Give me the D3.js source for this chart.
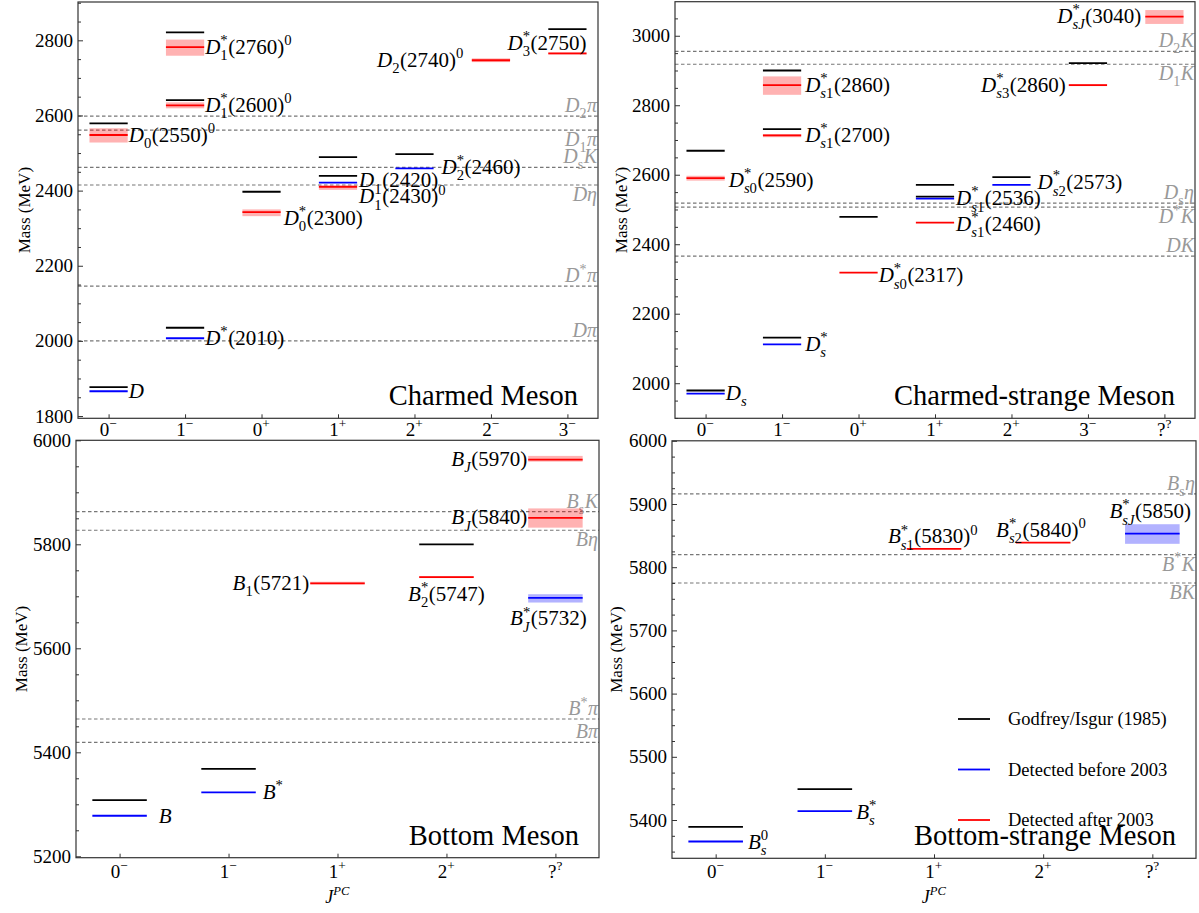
<!DOCTYPE html>
<html>
<head>
<meta charset="utf-8">
<script src="https://cdn.jsdelivr.net/npm/d3@7"></script>
<style>
  body { margin: 0; background: #fff; }
  svg text { font-family: "Liberation Serif", "Times New Roman", serif; }
</style>
</head>
<body>
<svg id="chart" width="1199" height="913"></svg>
<script>
//! ===== 0. Data (masses in MeV) ==========================
// levels: [J^PC, mass] or [J^PC, mass, bandLow, bandHigh]

// Charmed meson
const charmCats = ["0-", "1-", "0+", "1+", "2+", "2-", "3-"];
const charmGI = [["0-", 1877], ["0-", 2579], ["1-", 2035], ["1-", 2641], ["1-", 2821],
                 ["0+", 2397], ["1+", 2439], ["1+", 2489], ["2+", 2497], ["3-", 2830]];
const charmOld = [["0-", 1866], ["1-", 2007], ["1+", 2421], ["2+", 2459]];
const charmNew = [["0-", 2548, 2528, 2566], ["1-", 2627, 2619, 2635], ["1-", 2782, 2759, 2802],
                  ["0+", 2343, 2332, 2350], ["1+", 2410, 2402, 2415], ["2-", 2747, 2742, 2752],
                  ["3-", 2765, 2762, 2767]];
const charmThresh = [["D_{2}π", 2598], ["D_{1}π", 2561], ["D_{s}K", 2462], ["Dη", 2415],
                     ["D^{*}π", 2146], ["Dπ", 2000]];
const charmNames = [["0-", 1866, "D"], ["0-", 2548, "D_{0}(2550)^{0}"], ["1-", 2007, "D^{*}(2010)"],
                    ["1-", 2627, "D_{1}^{*}(2600)^{0}"], ["1-", 2782, "D_{1}^{*}(2760)^{0}"],
                    ["0+", 2343, "D_{0}^{*}(2300)"], ["1+", 2421, "D_{1}(2420)"],
                    ["1+", 2410, "D_{1}(2430)^{0}"], ["2+", 2459, "D_{2}^{*}(2460)"],
                    ["2-", 2747, "D_{2}(2740)^{0}"], ["3-", 2765, "D_{3}^{*}(2750)"]];

// Charmed-strange meson
const strangeCats = ["0-", "1-", "0+", "1+", "2+", "3-", "??"];
const strangeGI = [["0-", 1979], ["0-", 2669], ["1-", 2131], ["1-", 2731], ["1-", 2900],
                   ["0+", 2479], ["1+", 2537], ["1+", 2571], ["2+", 2593], ["3-", 2921]];
const strangeOld = [["0-", 1970], ["1-", 2112], ["1+", 2531], ["2+", 2571]];
const strangeNew = [["0-", 2590, 2583, 2597], ["1-", 2713, 2708, 2717], ["1-", 2858, 2830, 2883],
                    ["0+", 2318], ["1+", 2462], ["3-", 2858, 2855, 2861], ["??", 3055, 3034, 3074]];
const strangeThresh = [["D_{2}K", 2955], ["D_{1}K", 2918], ["D_{s}η", 2518], ["D^{*}K", 2507], ["DK", 2366]];
const strangeNames = [["0-", 1970, "D_{s}"], ["0-", 2590, "D_{s0}^{*}(2590)"], ["1-", 2112, "D_{s}^{*}"],
                      ["1-", 2713, "D_{s1}^{*}(2700)"], ["1-", 2858, "D_{s1}^{*}(2860)"],
                      ["0+", 2318, "D_{s0}^{*}(2317)"], ["1+", 2531, "D_{s1}^{*}(2536)"],
                      ["1+", 2462, "D_{s1}^{*}(2460)"], ["2+", 2571, "D_{s2}^{*}(2573)"],
                      ["3-", 2858, "D_{s3}^{*}(2860)"], ["??", 3055, "D_{sJ}^{*}(3040)"]];

// Bottom meson
const bottomCats = ["0-", "1-", "1+", "2+", "??"];
const bottomGI = [["0-", 5308], ["1-", 5368], ["2+", 5800]];
const bottomOld = [["0-", 5278], ["1-", 5323], ["??", 5697, 5688, 5704]];
const bottomNew = [["1+", 5725, 5723, 5728], ["2+", 5737, 5735, 5739],
                   ["??", 5851, 5832, 5869], ["??", 5963, 5959, 5970]];
const bottomThresh = [["B_{s}K", 5863], ["Bη", 5827], ["B^{*}π", 5464], ["Bπ", 5419]];
const bottomNames = [["0-", 5278, "B"], ["1-", 5323, "B^{*}"], ["1+", 5725, "B_{1}(5721)"],
                     ["2+", 5737, "B_{2}^{*}(5747)"], ["??", 5963, "B_{J}(5970)"],
                     ["??", 5851, "B_{J}(5840)"], ["??", 5697, "B_{J}^{*}(5732)"]];

// Bottom-strange meson
const bsCats = ["0-", "1-", "1+", "2+", "??"];
const bsGI = [["0-", 5389], ["1-", 5449]];
const bsOld = [["0-", 5366], ["1-", 5414], ["??", 5853, 5837, 5868]];
const bsNew = [["1+", 5829], ["2+", 5839]];
const bsThresh = [["B_{s}η", 5916], ["B^{*}K", 5820], ["BK", 5775]];
const bsNames = [["0-", 5366, "B_{s}^{0}"], ["1-", 5414, "B_{s}^{*}"], ["1+", 5829, "B_{s1}^{*}(5830)^{0}"],
                 ["2+", 5839, "B_{s2}^{*}(5840)^{0}"], ["??", 5853, "B_{sJ}^{*}(5850)"]];

const legendNames = ["Godfrey/Isgur (1985)", "Detected before 2003", "Detected after 2003"];

//! ===== I. Layout hints (kept apart from the data) =====
// name placement: side (r after level, l before level, e ends at level's right end,
// u centred above, d centred below), dx, dy
const charmNamePos = [["r",0,0],["r",0,0],["r",0,0],["r",0,0],["r",0,0],["r",2,6],["r",1,-2],
                      ["r",1,10],["r",7,-1],["l",-7,0],["e",0,-10]];
const charmThreshPos = ["u","d","u","d","u","u"];
const strangeNamePos = [["r",0,0],["r",3,2],["r",3,0],["r",3,0],["r",3,0],["r",0,3],["r",1,0],
                        ["r",1,2],["r",6,-2],["l",-2,0],["l",-3,0]];
const strangeThreshPos = ["u","d","u","d","u"];
const bottomNamePos = [["r",11,1],["r",6,0],["l",0,0],["d",0,17],["l",0,0],["l",0,0],["d",-7,21]];
const bottomThreshPos = ["u","d","u","u"];
const bsNamePos = [["r",4,1],["r",3,1],["u",-1,-12],["u",-2,-12],["u",-2,-22]];
const bsThreshPos = ["u","d","d"];

const FONT = "'Liberation Serif', 'Times New Roman', serif";
const colGI = "#000", colOld = "#0000ff", colNew = "#ff0000";
const svg = d3.select("#chart");

//! ===== II. Rich text (sub/superscripts) =====
function parseRich(s){
    const items = [];
    let buf = "";
    for (let i = 0; i < s.length; i++){
        const c = s[i];
        if (c === "_" || c === "^"){
            if (buf){ items.push({t: "base", s: buf}); buf = ""; }
            let txt;
            if (s[i+1] === "{"){ const j = s.indexOf("}", i); txt = s.slice(i+2, j); i = j; }
            else { txt = s[i+1]; i++; }
            items.push({t: c === "_" ? "sub" : "sup", s: txt});
        } else buf += c;
    }
    if (buf) items.push({t: "base", s: buf});
    return items;
}

function splitRuns(s){
    const runs = [];
    for (const ch of s){
        const letter = /[A-Za-zα-ωΑ-Ω]/.test(ch);
        if (runs.length && runs[runs.length-1].letter === letter) runs[runs.length-1].s += ch;
        else runs.push({s: ch, letter});
    }
    return runs;
}

// o: size, anchor, italic, scriptItalic, fill
function richText(parent, str, x, y, o){
    const fs = o.size;
    const grp = parent.append("g").attr("fill", o.fill || "#000");
    const place = (txt, size, dy, ital, x0) => {
        let cx = x0;
        for (const r of splitRuns(txt)){
            const t = grp.append("text")
                .attr("x", cx).attr("y", dy)
                .attr("font-family", FONT)
                .attr("font-size", size)
                .attr("font-style", ital && r.letter ? "italic" : "normal")
                .text(r.s);
            cx += t.node().getComputedTextLength();
        }
        return cx - x0;
    };
    const items = parseRich(str);
    let cx = 0;
    for (let k = 0; k < items.length; k++){
        const it = items[k];
        if (it.t === "base"){ cx += place(it.s, fs, 0, o.italic, cx); continue; }
        const shift = t => t === "sub" ? fs*0.3 : -fs*0.42;
        let w = place(it.s, fs*0.7, shift(it.t), o.scriptItalic, cx);
        const nx = items[k+1];
        if (nx && nx.t !== "base" && nx.t !== it.t){
            w = Math.max(w, place(nx.s, fs*0.7, shift(nx.t), o.scriptItalic, cx));
            k++;
        }
        cx += w + 0.5;
    }
    const off = o.anchor === "end" ? -cx : o.anchor === "middle" ? -cx/2 : 0;
    grp.attr("transform", `translate(${x + off},${y})`);
    return grp;
}

function catLabel(c){
    if (c === "??") return "?^{?}";
    return c[0] + "^{" + (c[1] === "-" ? "\u2212" : "+") + "}";
}

//! ===== III. Panel =====
function drawPanel(p){
    const x = d3.scalePoint().domain(p.cats).range([p.x0, p.x1]).padding(0.4);
    const y = d3.scaleLinear().domain(p.yDomain).range([p.y1, p.y0]);
    const hw = x.step() * 0.25;
    const g = svg.append("g");

    // thresholds
    p.thresh.forEach((d, i) => {
        g.append("line")
            .attr("x1", p.x0).attr("x2", p.x1)
            .attr("y1", y(d[1])).attr("y2", y(d[1]))
            .attr("stroke", "#777").attr("stroke-width", 1.2)
            .attr("stroke-dasharray", "3.5,2.5");
        const by = p.threshPos[i] === "u" ? y(d[1]) - 4 : y(d[1]) + 16;
        richText(g, d[0], p.x1 - 1, by, {size: 20, anchor: "end", italic: true, scriptItalic: false, fill: "#999"});
    });

    // bands
    const bands = p.old.filter(d => d.length > 2).map(d => [d, colOld])
        .concat(p.fresh.filter(d => d.length > 2).map(d => [d, colNew]));
    g.selectAll(".band").data(bands).enter().append("rect")
        .attr("x", d => x(d[0][0]) - hw)
        .attr("width", 2*hw)
        .attr("y", d => y(d[0][3]))
        .attr("height", d => y(d[0][2]) - y(d[0][3]))
        .attr("fill", d => d[1]).attr("opacity", 0.3);

    // levels
    [[p.gi, colGI], [p.old, colOld], [p.fresh, colNew]].forEach(([arr, col]) => {
        g.selectAll(null).data(arr).enter().append("line")
            .attr("x1", d => x(d[0]) - hw).attr("x2", d => x(d[0]) + hw)
            .attr("y1", d => y(d[1])).attr("y2", d => y(d[1]))
            .attr("stroke", col).attr("stroke-width", 1.8);
    });

    // names
    p.names.forEach((d, i) => {
        const [side, dx, dy] = p.namePos[i];
        const xc = x(d[0]), cy = y(d[1]) + dy;
        let lx, anchor;
        if (side === "r"){ lx = xc + hw + 1 + dx; anchor = "start"; }
        else if (side === "l"){ lx = xc - hw - 1 + dx; anchor = "end"; }
        else if (side === "e"){ lx = xc + hw + dx; anchor = "end"; }
        else { lx = xc + dx; anchor = "middle"; }
        richText(g, d[2], lx, cy + 6.5, {size: 21, anchor, italic: true, scriptItalic: true});
    });

    // frame
    g.append("rect")
        .attr("x", p.x0).attr("y", p.y0)
        .attr("width", p.x1 - p.x0).attr("height", p.y1 - p.y0)
        .attr("fill", "none").attr("stroke", "#333").attr("stroke-width", 1.2);

    // y axis: major + minor ticks pointing inward
    const yMajor = d3.range(p.yTicks[0], p.yTicks[1] + 1, p.yTicks[2]);
    const yMinor = d3.range(p.yTicks[0] - p.yTicks[2], p.yDomain[1], p.yTicks[2] / 4)
        .filter(v => v >= p.yDomain[0] && v <= p.yDomain[1] && !yMajor.includes(v));
    const ya = g.append("g").attr("transform", `translate(${p.x0},0)`).style("color", "#333")
        .call(d3.axisLeft(y).tickValues(yMajor).tickSize(-5).tickPadding(5).tickFormat(d3.format("d")));
    ya.select(".domain").remove();
    ya.selectAll("text").attr("font-size", 19).attr("font-family", FONT).attr("fill", "#000");
    const ym = g.append("g").attr("transform", `translate(${p.x0},0)`).style("color", "#333")
        .call(d3.axisLeft(y).tickValues(yMinor).tickSize(-3).tickFormat(""));
    ym.select(".domain").remove();

    // x axis
    const xa = g.append("g").attr("transform", `translate(0,${p.y1})`).style("color", "#333")
        .call(d3.axisBottom(x).tickSize(-4).tickFormat(""));
    xa.select(".domain").remove();
    p.cats.forEach(c => {
        richText(g, catLabel(c), x(c), p.y1 + p.tickLabelDy, {size: 19, anchor: "middle", italic: false, scriptItalic: false});
    });

    // axis titles and panel title
    g.append("text")
        .attr("transform", `translate(${p.massX},${(p.y0 + p.y1) / 2}) rotate(-90)`)
        .attr("text-anchor", "middle").attr("font-size", 17).attr("font-family", FONT)
        .text("Mass (MeV)");
    if (p.jpc){
        richText(g, "J^{PC}", (p.x0 + p.x1) / 2, 903, {size: 18, anchor: "middle", italic: true, scriptItalic: true});
    }
    g.append("text")
        .attr("x", p.x1 - 20).attr("y", p.titleY)
        .attr("text-anchor", "end").attr("font-size", 28.5).attr("font-family", FONT)
        .text(p.title);
    return g;
}

//! ===== IV. Draw the four panels =====
drawPanel({cats: charmCats, gi: charmGI, old: charmOld, fresh: charmNew,
    thresh: charmThresh, threshPos: charmThreshPos, names: charmNames, namePos: charmNamePos,
    x0: 78, x1: 598, y0: 2, y1: 418.3, yDomain: [1794, 2902], yTicks: [1800, 2800, 200],
    tickLabelDy: 18, massX: 30, title: "Charmed Meson", titleY: 405, jpc: false});

drawPanel({cats: strangeCats, gi: strangeGI, old: strangeOld, fresh: strangeNew,
    thresh: strangeThresh, threshPos: strangeThreshPos, names: strangeNames, namePos: strangeNamePos,
    x0: 675, x1: 1195, y0: 1.7, y1: 418.3, yDomain: [1899, 3098], yTicks: [2000, 3000, 200],
    tickLabelDy: 18, massX: 627, title: "Charmed-strange Meson", titleY: 405, jpc: false});

drawPanel({cats: bottomCats, gi: bottomGI, old: bottomOld, fresh: bottomNew,
    thresh: bottomThresh, threshPos: bottomThreshPos, names: bottomNames, namePos: bottomNamePos,
    x0: 76, x1: 599, y0: 440.3, y1: 857.7, yDomain: [5197.3, 6000], yTicks: [5200, 6000, 200],
    tickLabelDy: 20, massX: 27, title: "Bottom Meson", titleY: 845, jpc: true});

const bsPanel = drawPanel({cats: bsCats, gi: bsGI, old: bsOld, fresh: bsNew,
    thresh: bsThresh, threshPos: bsThreshPos, names: bsNames, namePos: bsNamePos,
    x0: 672, x1: 1196, y0: 440.8, y1: 858.3, yDomain: [5339.4, 6000], yTicks: [5400, 6000, 100],
    tickLabelDy: 20, massX: 622, title: "Bottom-strange Meson", titleY: 845, jpc: true});

// legend (inside the bottom-strange panel)
const legendCols = [colGI, colOld, colNew];
legendNames.forEach((name, i) => {
    const ly = 719 + i * 50.5;
    bsPanel.append("line")
        .attr("x1", 958).attr("x2", 990).attr("y1", ly).attr("y2", ly)
        .attr("stroke", legendCols[i]).attr("stroke-width", 1.8);
    bsPanel.append("text")
        .attr("x", 1008).attr("y", ly + 6)
        .attr("font-size", 18.5).attr("font-family", FONT)
        .text(name);
});
</script>
</body>
</html>
